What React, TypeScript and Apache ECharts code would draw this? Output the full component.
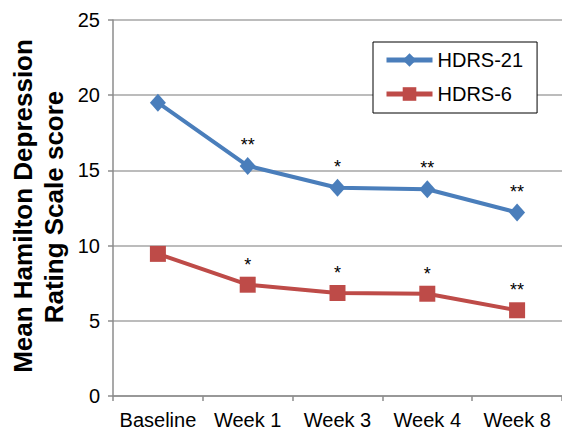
import React, { useEffect, useRef } from "react";
import * as echarts from "echarts";

const categories = ["Baseline", "Week 1", "Week 3", "Week 4", "Week 8"];
const hdrs21 = [19.5, 15.3, 13.85, 13.75, 12.2];
const hdrs6 = [9.45, 7.4, 6.85, 6.8, 5.7];
const hdrs21Sig = ["", "**", "*", "**", "**"];
const hdrs6Sig = ["", "*", "*", "*", "**"];
const yTicks = { min: 0, max: 25, interval: 5 };

const FONT = "'Liberation Sans', Arial, Helvetica, sans-serif";

function withLabels(values: number[], sig: string[]) {
  return values.map((v, i) => ({
    value: v,
    label: {
      show: sig[i] !== "",
      formatter: sig[i],
      position: "top",
      distance: 3,
      color: "#000",
      fontSize: 18,
      fontFamily: FONT,
    },
  }));
}

export default function App() {
  const ref = useRef<HTMLDivElement>(null);
  useEffect(() => {
    if (!ref.current) return;
    const chart = echarts.init(ref.current, undefined, { renderer: "svg" });
    chart.setOption({
      animation: false,
      backgroundColor: "#fff",
      textStyle: { fontFamily: FONT },
      grid: { left: 113, top: 20, width: 455, height: 376, containLabel: false },
      legend: {
        orient: "vertical",
        left: 373,
        top: 42,
        padding: [8, 14, 9, 11],
        itemWidth: 46,
        itemHeight: 17,
        itemGap: 14,
        borderColor: "#000",
        borderWidth: 1,
        backgroundColor: "#fff",
        borderRadius: 0,
        lineStyle: { width: 5 },
        textStyle: { fontSize: 20, color: "#000", fontFamily: FONT, lineHeight: 20 },
        data: ["HDRS-21", "HDRS-6"],
      },
      xAxis: {
        type: "category",
        data: categories,
        boundaryGap: true,
        axisLine: { lineStyle: { color: "#8c8c8c", width: 1.5 } },
        axisTick: { show: true, length: 5, lineStyle: { color: "#8c8c8c", width: 1.5 } },
        axisLabel: { color: "#000", fontSize: 20, fontFamily: FONT, margin: 14, interval: 0 },
        splitLine: { show: false },
      },
      yAxis: {
        type: "value",
        min: yTicks.min,
        max: yTicks.max,
        interval: yTicks.interval,
        axisLine: { show: true, lineStyle: { color: "#8c8c8c", width: 1.5 } },
        axisTick: { show: true, length: 5, lineStyle: { color: "#8c8c8c", width: 1.5 } },
        axisLabel: { color: "#000", fontSize: 20, fontFamily: FONT, margin: 13 },
        splitLine: { show: true, lineStyle: { color: "#a6a6a6", width: 1.5 } },
      },
      graphic: [
        {
          type: "text",
          x: 23,
          y: 206,
          rotation: Math.PI / 2,
          style: {
            text: "Mean Hamilton Depression",
            fontSize: 26,
            fontWeight: "bold",
            fontFamily: FONT,
            fill: "#000",
            textAlign: "center",
            textVerticalAlign: "middle",
          },
        },
        {
          type: "text",
          x: 54,
          y: 207,
          rotation: Math.PI / 2,
          style: {
            text: "Rating Scale score",
            fontSize: 26,
            fontWeight: "bold",
            fontFamily: FONT,
            fill: "#000",
            textAlign: "center",
            textVerticalAlign: "middle",
          },
        },
      ],
      series: [
        {
          name: "HDRS-21",
          type: "line",
          data: withLabels(hdrs21, hdrs21Sig),
          symbol: "diamond",
          symbolSize: [16, 18],
          lineStyle: { color: "#4a7ebb", width: 4 },
          itemStyle: { color: "#4a7ebb" },
        },
        {
          name: "HDRS-6",
          type: "line",
          data: withLabels(hdrs6, hdrs6Sig),
          symbol: "rect",
          symbolSize: 16,
          lineStyle: { color: "#be4b48", width: 4 },
          itemStyle: { color: "#be4b48" },
        },
      ],
    });
    return () => chart.dispose();
  }, []);
  return <div ref={ref} style={{ width: 562, height: 434, position: "absolute", left: 0, top: 0 }} />;
}
